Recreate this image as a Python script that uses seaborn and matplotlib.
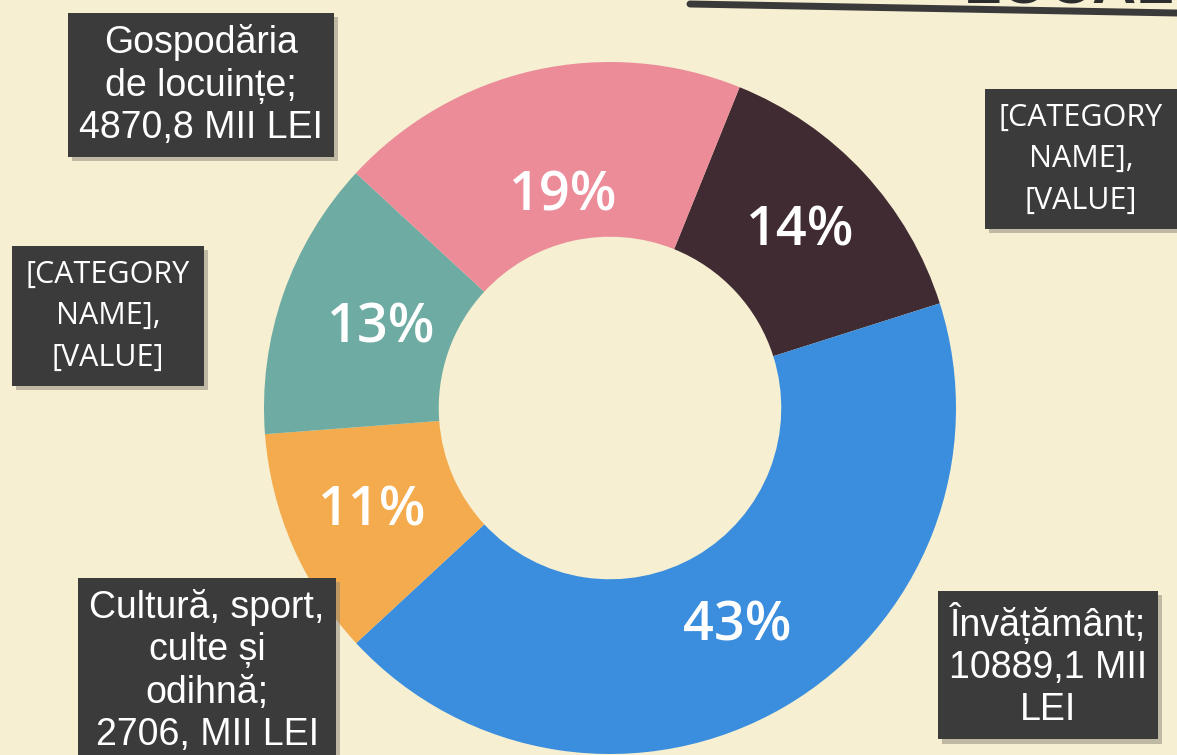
import matplotlib
matplotlib.use('Agg')
import matplotlib.pyplot as plt
import matplotlib.patheffects as pe
from matplotlib.lines import Line2D
import numpy as np
import seaborn as sns

# data (clockwise from the top)
categories = ['[CATEGORY NAME]', 'Învățământ', 'Cultură, sport, culte și odihnă',
              '[CATEGORY NAME]', 'Gospodăria de locuințe']
values = [3545.0, 10889.1, 2706.0, 3313.0, 4870.8]
colors = ['#3f2b31', '#3b8edd', '#f4ab4d', '#6eaba2', '#ec8c99']

# label boxes as shown on the chart
box_texts = ['[CATEGORY\nNAME],\n[VALUE]',
             'Învățământ;\n10889,1 MII\nLEI',
             'Cultură, sport,\nculte și\nodihnă;\n2706, MII LEI',
             '[CATEGORY\nNAME],\n[VALUE]',
             'Gospodăria\nde locuințe;\n4870,8 MII LEI']
box_pos = [(1081, 159), (1048, 665), (207, 671), (108, 316), (201, 85)]  # image px
box_font = ['Open Sans', 'Liberation Sans', 'Liberation Sans', 'Open Sans', 'Liberation Sans']
pct_dist = [0.75, 0.73, 0.75, 0.70, 0.625]

W, H = 1177, 755
bg = '#f6efd2'

sns.set_theme(style='white')
plt.rcParams['font.family'] = ['Open Sans', 'DejaVu Sans']

fig = plt.figure(figsize=(W / 100, H / 100), dpi=100, facecolor=bg)
ax = fig.add_axes([0, 0, 1, 1])
ax.set_facecolor(bg)

cx, cy, R = 610, H - 408, 346
wedges, _ = ax.pie(values, colors=sns.color_palette(colors), startangle=68,
                   counterclock=False, radius=R, center=(cx, cy),
                   wedgeprops=dict(width=R * 0.505, edgecolor='none'))
ax.set_xlim(0, W)
ax.set_ylim(0, H)
ax.set_aspect('equal')
ax.axis('off')

# percentage labels
total = sum(values)
for w, v, d in zip(wedges, values, pct_dist):
    ang = np.deg2rad((w.theta1 + w.theta2) / 2)
    ax.text(cx + R * d * np.cos(ang), cy + R * d * np.sin(ang),
            f'{v / total * 100:.0f}%', ha='center', va='center',
            color='white', fontsize=39, fontweight='semibold', family='Open Sans')

# category boxes
for txt, (px, py), fam in zip(box_texts, box_pos, box_font):
    if fam == 'Open Sans':
        size, ls, pad = 22, 1.5, 0.45
    else:
        size, ls, pad = 27, 1.22, 0.3
    t = ax.text(px, H - py, txt, ha='center', va='center', color='white',
                fontsize=size, family=fam, linespacing=ls, clip_on=False,
                bbox=dict(boxstyle=f'square,pad={pad}', fc='#3b3b3b', ec='none'))
    t.get_bbox_patch().set_path_effects([
        pe.withSimplePatchShadow(offset=(3, -3), shadow_rgbFace='#8a8578', alpha=0.5)])

# cut-off title at the top (only the bottom of the letters shows)
ax.text(1215, H - 3, 'LOCALE', ha='right', va='baseline',
        fontsize=44, fontweight='bold', color='#2d2d2d', family='Liberation Sans',
        clip_on=False)
fig.add_artist(Line2D([690 / W, 1.0], [1 - 4 / H, 1 - 13 / H], color='#3a3a3a',
                      linewidth=5, transform=fig.transFigure))

fig.savefig('out.png', dpi=100, facecolor=bg)
